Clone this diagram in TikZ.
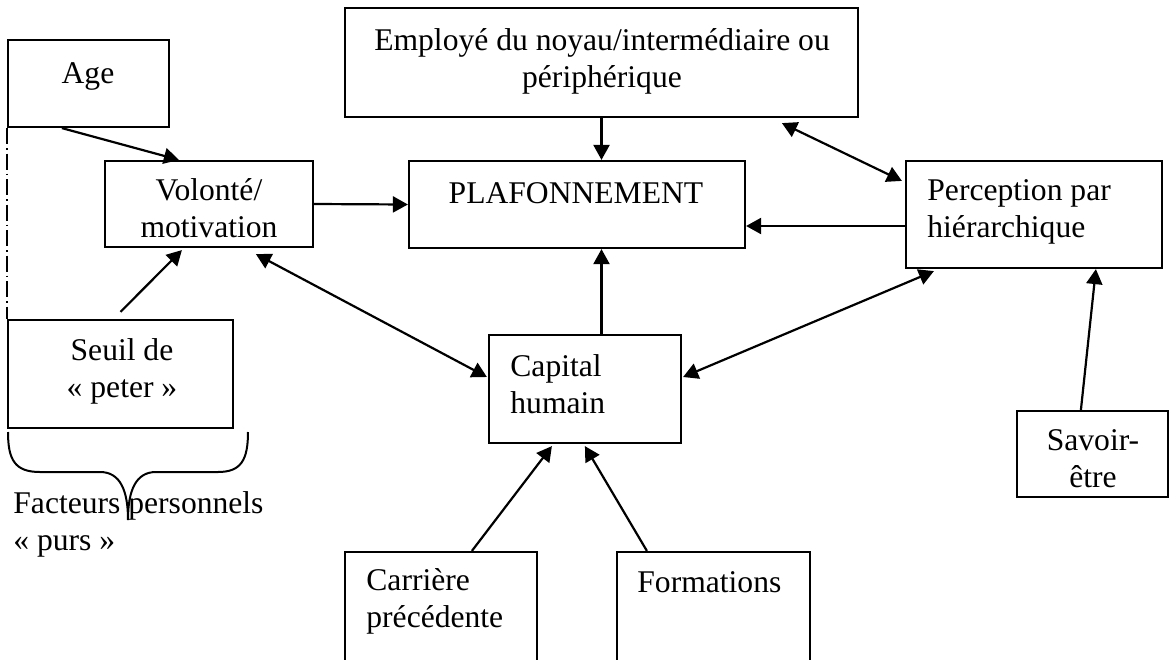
\documentclass[tikz,border=0pt]{standalone}
\usepackage{fontspec}
\setmainfont{Liberation Serif}
\usetikzlibrary{arrows.meta}
\usetikzlibrary{calc}
\usetikzlibrary{fit}

\begin{document}
\begin{tikzpicture}[x=0.5pt,y=-0.5pt,
    font=\fontsize{15.8pt}{18.25pt}\selectfont,
    box/.style={draw,line width=1.1pt,inner sep=0pt,fit={#1}},
    txt/.style={anchor=base,align=center,inner sep=0pt},
    txtl/.style={anchor=base west,align=left,inner sep=0pt},
    arr/.style={line width=1.1pt,-{Triangle[length=7.5pt,width=8pt]}},
    dblarr/.style={line width=1.1pt,
      {Triangle[length=7.5pt,width=8pt]}-{Triangle[length=7.5pt,width=8pt]}}]
    \clip (0,0) rectangle (1172,659);

    \node[box={(8,40) (169,127)}] (age) {};
    \node[box={(105,161) (313,247)}] (volonte) {};
    \node[box={(345,8) (858,117)}] (employe) {};
    \node[box={(409,161) (745,248)}] (plaf) {};
    \node[box={(906,161) (1162,268)}] (perception) {};
    \node[box={(489,335) (681,443)}] (capital) {};
    \node[box={(8,320) (233,428)}] (seuil) {};
    \node[box={(345,552) (537,690)}] (carriere) {};
    \node[box={(617,552) (810,690)}] (formations) {};
    \node[box={(1017,411) (1168,497)}] (savoir) {};

    % multi-line texts sit on the baseline of their last line
    \node[txt] (agetxt) at (88,83) {Age};
    \node[txt] (volontetxt) at (209,237) {Volonté/\\motivation};
    \node[txt] (employetxt) at (602,87)
      {Employé du noyau/intermédiaire ou\\périphérique};
    \node[txt] (plaftxt) at (576,203) {PLAFONNEMENT};
    \node[txtl] (perceptiontxt) at (927,237) {Perception par\\hiérarchique};
    \node[txtl] (capitaltxt) at (510,413) {Capital\\humain};
    \node[txt] (seuiltxt) at (122,397) {Seuil de\\«~peter~»};
    \node[txtl] (carrieretxt) at (366,627) {Carrière\\précédente};
    \node[txtl] (formationstxt) at (637,592) {Formations};
    \node[txt] (savoirtxt) at (1093,487) {Savoir-\\être};
    \node[txtl] (facteurs) at (13,550) {Facteurs personnels\\«~purs~»};

    \draw[arr] ($(age.south west)+(55,0)$) -- ($(volonte.north west)+(75,0)$);
    \draw[arr] ($(seuil.north)+(0,-7)$) -- ($(volonte.south west)+(78,2)$);
    \draw[arr] (volonte.east) -- (plaf.west);
    \draw[arr] (employe.south) -- (employe.south |- plaf.north);
    \draw[arr] (employe.south |- capital.north) -- (employe.south |- plaf.south);
    \draw[arr] ($(perception.west)+(0,11.5)$) coordinate (pw) -- (plaf.east |- pw);
    \draw[dblarr] ($(volonte.south west)+(152,6)$) -- ($(capital.west)+(-1,-12)$);
    \draw[dblarr] ($(employe.south west)+(438,5)$)
      -- ($(perception.north west)+(-3,21)$);
    \draw[dblarr] ($(capital.east)+(1,-12)$) -- ($(perception.south west)+(29,2)$);
    \draw[arr] ($(carriere.north west)+(128,0)$) -- ($(capital.south west)+(64,2)$);
    \draw[arr] ($(formations.north west)+(31,0)$) -- ($(capital.south west)+(97,2)$);
    \draw[arr] ($(savoir.north west)+(65,0)$) -- ($(perception.south west)+(191,0)$);

    % dash-dot side of the personal factors
    \draw[line width=0.8pt,dash pattern=on 8pt off 2pt on 0.75pt off 2pt]
      (age.south west) -- (seuil.north west);
    % brace
    \draw[line width=1pt] (8,432) .. controls (8,460) and (15,472) .. (40,472)
      -- (100,472) .. controls (120,472) and (128,490) .. (128,520)
      .. controls (128,490) and (136,472) .. (156,472)
      -- (218,472) .. controls (241,472) and (248,460) .. (248,432);
\end{tikzpicture}
\end{document}
